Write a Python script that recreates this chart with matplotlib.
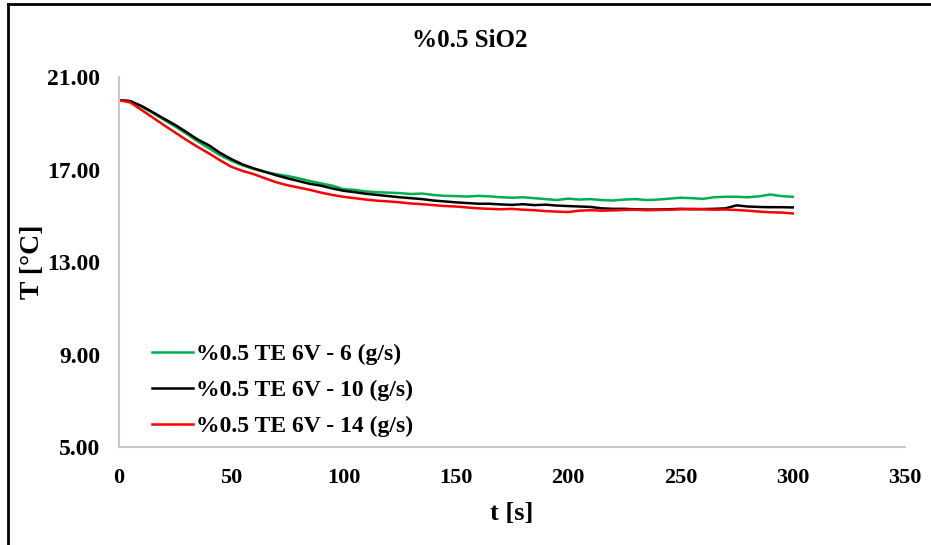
import matplotlib
matplotlib.use("Agg")
import matplotlib.pyplot as plt
from matplotlib.lines import Line2D

plt.rcParams['font.family'] = ['Liberation Serif', 'DejaVu Serif']
plt.rcParams['font.weight'] = 'bold'

time_s = list(range(0, 301, 5))

temp_6gs = [20.00, 19.95, 19.72, 19.45, 19.15, 18.86, 18.55, 18.22, 17.92, 17.62,
            17.38, 17.18, 17.02, 16.90, 16.80, 16.72, 16.62, 16.50, 16.40, 16.30,
            16.15, 16.12, 16.05, 16.02, 16.00, 15.98, 15.94, 15.96, 15.90, 15.86,
            15.85, 15.83, 15.86, 15.84, 15.80, 15.78, 15.80, 15.76, 15.72, 15.68,
            15.74, 15.70, 15.72, 15.68, 15.66, 15.70, 15.72, 15.68, 15.70, 15.74,
            15.78, 15.76, 15.73, 15.80, 15.82, 15.82, 15.80, 15.84, 15.92, 15.85,
            15.82]

temp_10gs = [20.00, 19.96, 19.75, 19.48, 19.20, 18.93, 18.62, 18.30, 18.05, 17.72,
             17.45, 17.22, 17.05, 16.90, 16.75, 16.62, 16.50, 16.38, 16.30, 16.18,
             16.08, 16.02, 15.95, 15.90, 15.85, 15.80, 15.76, 15.72, 15.66, 15.62,
             15.58, 15.55, 15.52, 15.52, 15.49, 15.47, 15.50, 15.46, 15.48, 15.44,
             15.42, 15.40, 15.38, 15.32, 15.30, 15.30, 15.28, 15.27, 15.27, 15.28,
             15.30, 15.28, 15.29, 15.30, 15.32, 15.45, 15.40, 15.38, 15.37, 15.37,
             15.36]

temp_14gs = [20.00, 19.90, 19.58, 19.25, 18.92, 18.60, 18.28, 17.98, 17.70, 17.40,
             17.12, 16.94, 16.80, 16.62, 16.45, 16.32, 16.22, 16.12, 16.00, 15.90,
             15.82, 15.76, 15.70, 15.65, 15.62, 15.58, 15.53, 15.50, 15.46, 15.42,
             15.40, 15.36, 15.32, 15.30, 15.28, 15.30, 15.26, 15.24, 15.20, 15.18,
             15.16, 15.22, 15.24, 15.22, 15.23, 15.25, 15.26, 15.24, 15.25, 15.26,
             15.28, 15.30, 15.28, 15.26, 15.27, 15.25, 15.22, 15.18, 15.15, 15.14,
             15.10]

labels = ["%0.5 TE 6V - 6 (g/s)", "%0.5 TE 6V - 10 (g/s)", "%0.5 TE 6V - 14 (g/s)"]
colors = ["#00b050", "#000000", "#ff0000"]

x_ticks = [0, 50, 100, 150, 200, 250, 300, 350]
y_ticks = [5.0, 9.0, 13.0, 17.0, 21.0]

fig = plt.figure(figsize=(9.31, 5.45), dpi=100)
ax = fig.add_axes([0.1278, 0.1798, 0.8443, 0.6789])

for series, lab, col in zip([temp_6gs, temp_10gs, temp_14gs], labels, colors):
    ax.plot(time_s, series, color=col, lw=1.8, label=lab)

ax.set_xlim(0, 350)
ax.set_ylim(5, 21)
ax.set_xticks(x_ticks)
ax.set_yticks(y_ticks)
ax.set_yticklabels([f"{v:.2f}" for v in y_ticks])
ax.tick_params(axis='x', length=0, labelsize=16, pad=15)
ax.tick_params(axis='y', length=0, labelsize=17, pad=13.5)
for lbl in ax.get_xticklabels() + ax.get_yticklabels():
    lbl.set_fontweight('bold')
for s in ['top', 'right']:
    ax.spines[s].set_visible(False)
for s in ['left', 'bottom']:
    ax.spines[s].set_color('#c8c8c8')
    ax.spines[s].set_linewidth(1.5)

ax.set_xlabel("t [s]", fontsize=19, fontweight='bold', labelpad=10)
ax.set_ylabel("T [°C]", fontsize=20, fontweight='bold', labelpad=0)
ax.yaxis.set_label_coords(-0.094, 0.5)
fig.text(0.505, 0.925, "%0.5 SiO2", ha='center', va='center', fontsize=18, fontweight='bold')

leg = ax.legend(loc='upper left', bbox_to_anchor=(0.03, 0.305), frameon=False,
                prop={'size': 17, 'weight': 'bold'}, handlelength=1.75,
                handletextpad=0.12, labelspacing=0.62, borderaxespad=0.0)

fig.add_artist(Line2D([0.009, 0.009], [0, 0.993], transform=fig.transFigure, color='black', lw=2))
fig.add_artist(Line2D([0.009, 1.0], [0.993, 0.993], transform=fig.transFigure, color='black', lw=2))

fig.savefig("out.png", dpi=100)
